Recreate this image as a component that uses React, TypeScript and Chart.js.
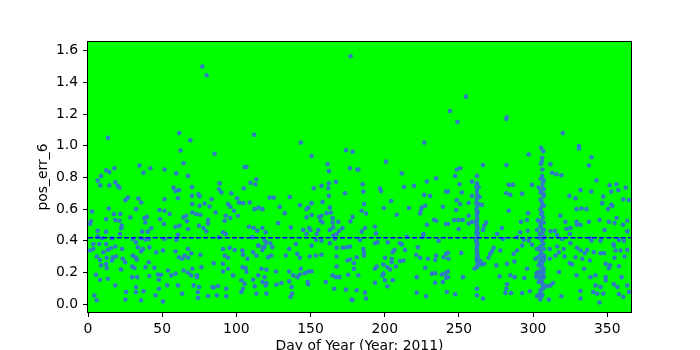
import React, { useEffect, useRef } from "react";
import { Chart, registerables } from "chart.js";

Chart.register(...registerables);

// ---- data: [day of year, pos_err_6] ----
const SEG_A: number[][] = [
  [12.2,0.845],[14.4,0.834],[17.8,0.858],[8.8,0.81],[6.5,0.78],[8.3,0.75],[14.4,0.75],[18.4,0.77],[20,0.747],[21.2,0.736],
  [34.7,0.876],[42.1,0.858],[37.4,0.83],[51.6,0.85],[59.5,0.826],[57.6,0.736],[59,0.715],[25.2,0.657],[26.8,0.673],[34,0.667],
  [35.8,0.642],[32.4,0.6],[51.6,0.663],[48.2,0.594],[51.6,0.59],[55,0.569],[2.7,0.585],[14,0.604],[17.4,0.569],[21.8,0.569],
  [18.4,0.531],[21.2,0.527],[12.2,0.537],[2,0.523],[1.4,0.506],[28.6,0.548],[38,0.544],[39.7,0.552],[38.7,0.516],[22.8,0.496],
  [22.3,0.48],[36.5,0.458],[40.3,0.458],[42.6,0.48],[48.6,0.537],[51.1,0.506],[59,0.489],[6.5,0.464],[12.2,0.458],[6.5,0.429],
  [9.5,0.416],[16.2,0.416],[21.6,0.443],[30.2,0.412],[32.4,0.391],[35.8,0.416],[38.7,0.408],[41,0.412],[51.6,0.412],[60.6,0.439],
  [59.5,0.406],[3.6,0.38],[7.6,0.38],[12.2,0.38],[1.4,0.339],[3.6,0.349],[10.3,0.328],[13.3,0.343],[15.5,0.353],[18.4,0.364],
  [23,0.349],[33.6,0.36],[37,0.349],[35.8,0.333],[41.4,0.36],[46,0.328],[50.5,0.339],[59,0.333],[5.9,0.301],[8.1,0.28],
  [12.6,0.293],[16.7,0.297],[18.9,0.301],[12.2,0.255],[12.6,0.228],[8.8,0.245],[16.2,0.276],[23.4,0.287],[25,0.265],[22.3,0.22],
  [30.2,0.307],[32,0.297],[32.9,0.28],[29.7,0.238],[31.3,0.228],[38.7,0.234],[41,0.265],[44.8,0.23],[47.1,0.188],[49.3,0.186],
  [53.9,0.213],[56.1,0.182],[59,0.193],[5.4,0.186],[8.1,0.155],[13.3,0.161],[18.4,0.119],[29.7,0.171],[33.1,0.171],[41.4,0.178],
  [47.8,0.155],[47.8,0.098],[53.4,0.119],[32.4,0.109],[32.4,0.077],[25.7,0.077],[37.4,0.082],[45.5,0.056],[50.5,0.017],[4.3,0.055],
  [5.9,0.025],[25.2,0.03],[35.8,0.025],[13.5,1.05],
];

const SEG_B: number[][] = [
  [61.5,1.08],[69,1.035],[62.4,0.97],[85.3,0.95],[64.4,0.89],[105.6,0.866],[106.8,0.866],[67.4,0.81],[113.5,0.789],[109.5,0.767],
  [112.8,0.757],[88.7,0.763],[61.3,0.72],[70.1,0.74],[88.3,0.726],[89.9,0.705],[74.5,0.694],[75.2,0.682],[96.6,0.7],[105,0.732],
  [60.6,0.669],[70.1,0.684],[100.5,0.669],[104.5,0.638],[109,0.642],[83.3,0.663],[70.3,0.632],[75.2,0.621],[78.6,0.636],[82,0.617],
  [94.4,0.632],[95.9,0.615],[101.8,0.642],[98.4,0.59],[101.1,0.558],[112.4,0.6],[115,0.61],[117.6,0.6],[64.4,0.548],[66.2,0.558],
  [70.3,0.579],[73,0.569],[75.7,0.565],[86,0.579],[92.8,0.558],[95.9,0.544],[92.1,0.527],[80.9,0.533],[80.9,0.51],[61.7,0.496],
  [66.7,0.523],[67.4,0.475],[74.8,0.496],[77.9,0.481],[79.7,0.46],[91,0.454],[92.8,0.443],[108.6,0.489],[111.7,0.481],[114,0.464],
  [117.6,0.481],[119.8,0.454],[88.3,0.422],[110.8,0.422],[119.1,0.4],[114.7,0.37],[118.4,0.36],[120.3,0.39],[67.4,0.349],[61.3,0.297],
  [63.5,0.287],[65.1,0.307],[67.4,0.293],[69.6,0.322],[75.7,0.312],[84.7,0.259],[91,0.349],[95.5,0.356],[98.9,0.343],[92.1,0.307],
  [94.4,0.293],[91,0.255],[94.4,0.224],[104.1,0.339],[104.5,0.312],[107.4,0.287],[104.1,0.234],[106.3,0.228],[111.3,0.328],[113.5,0.307],
  [115.3,0.37],[117.6,0.343],[119.1,0.364],[64.4,0.213],[67.4,0.199],[69.6,0.182],[70.3,0.224],[73.4,0.182],[73.4,0.171],[76.4,0.234],
  [60.6,0.119],[63.5,0.067],[71.2,0.119],[74.8,0.109],[74.1,0.077],[74.1,0.04],[80.9,0.052],[83.8,0.109],[87.6,0.115],[86.9,0.056],
  [84.7,0.105],[93.2,0.098],[93.2,0.05],[91,0.207],[97.8,0.182],[103.4,0.151],[105.6,0.13],[104.5,0.098],[103.4,0.077],[106.8,0.203],
  [111.3,0.155],[114.7,0.182],[117.6,0.14],[119.1,0.171],[112.4,0.113],[119.8,0.119],[116.9,0.224],[113.5,0.067],[77,1.5],[80,1.445],
  [112,1.07],
];

const SEG_C: number[][] = [
  [143.5,1.02],[150.7,0.935],[173.9,0.972],[178.4,0.962],[161.5,0.883],[162.4,0.84],[176.6,0.858],[181.5,0.85],[152.2,0.732],[157.4,0.747],
  [162.4,0.763],[162,0.732],[167.1,0.772],[173.2,0.7],[162.4,0.684],[122.5,0.673],[125.2,0.673],[136,0.677],[142.8,0.625],[150.7,0.638],
  [158.1,0.646],[129.3,0.615],[132.6,0.575],[148.4,0.61],[147.3,0.6],[150.7,0.563],[147.3,0.548],[155.9,0.552],[157.4,0.558],[160.8,0.575],
  [163,0.61],[163.7,0.579],[156.8,0.527],[158.1,0.516],[164.9,0.544],[164.9,0.516],[168.7,0.52],[178.4,0.552],[177,0.523],[128.2,0.512],
  [136.7,0.485],[145,0.469],[149.1,0.481],[150,0.469],[154.1,0.443],[155.2,0.469],[163,0.469],[165.3,0.485],[171.6,0.481],[169.4,0.464],
  [167.6,0.443],[165.3,0.433],[147.3,0.443],[153.6,0.406],[157.4,0.4],[163,0.385],[166.4,0.412],[150.7,0.37],[167.6,0.356],[171.6,0.356],
  [174.3,0.36],[176.6,0.364],[123,0.385],[124.3,0.36],[135.6,0.349],[140.1,0.38],[121.4,0.297],[123.6,0.307],[133.3,0.307],[141,0.318],
  [142.8,0.293],[149.5,0.301],[153.6,0.307],[157.4,0.312],[167.6,0.301],[174.8,0.276],[176.6,0.282],[179.3,0.259],[120.3,0.218],[126.6,0.207],
  [135.6,0.207],[143.5,0.224],[146.1,0.196],[148.4,0.207],[150.7,0.207],[142.8,0.188],[141.2,0.171],[138.3,0.182],[167.6,0.238],[164.9,0.182],
  [167.1,0.171],[169.4,0.171],[175.4,0.186],[179.3,0.224],[120.3,0.134],[127,0.124],[130.4,0.134],[135.6,0.144],[137.2,0.109],[137.6,0.067],
  [136.5,0.046],[148,0.14],[148.4,0.126],[160.3,0.14],[166,0.098],[173.9,0.092],[181.1,0.088],[178.2,0.025],[177.6,0.03],[120.3,0.067],
  [177,1.565],
];

const SEG_D: number[][] = [
  [226.6,1.02],[200.9,0.9],[182.2,0.85],[211.5,0.826],[234.7,0.795],[228.4,0.774],[241.4,0.711],[185.1,0.757],[185.6,0.711],[196.8,0.73],
  [197.5,0.715],[213,0.74],[219.8,0.747],[226.6,0.69],[230.6,0.684],[204.3,0.652],[186,0.632],[184.5,0.59],[187.4,0.573],[199.5,0.607],
  [216.4,0.607],[224.3,0.59],[225,0.61],[227.3,0.621],[223.9,0.573],[239.2,0.615],[208.1,0.565],[233.3,0.533],[234.7,0.527],[241.4,0.506],
  [228.4,0.502],[193.4,0.489],[186.7,0.481],[184.5,0.458],[194.1,0.447],[226.1,0.443],[225.7,0.426],[214.9,0.426],[183.3,0.406],[236.3,0.4],
  [193.4,0.385],[195,0.391],[202,0.391],[210.3,0.385],[211.5,0.376],[185.6,0.349],[186,0.328],[186,0.307],[206.6,0.343],[205.4,0.328],
  [213.7,0.343],[222.3,0.36],[181.1,0.297],[200.2,0.293],[204.7,0.287],[204.7,0.265],[210.3,0.272],[212.6,0.276],[221.2,0.312],[223.9,0.293],
  [229.1,0.287],[234,0.28],[234.7,0.307],[239.7,0.297],[241.4,0.318],[194.6,0.238],[199.1,0.251],[201.8,0.234],[203.6,0.22],[207.6,0.238],
  [193.4,0.224],[227.3,0.23],[182.2,0.182],[198.6,0.182],[199.1,0.193],[221.6,0.171],[231.8,0.193],[234,0.196],[238.5,0.188],[240.8,0.196],
  [241.4,0.167],[193.4,0.136],[200.2,0.151],[201.8,0.113],[205.4,0.151],[234,0.136],[239.2,0.14],[186.7,0.073],[187.4,0.036],[221.6,0.073],
  [227.9,0.05],[241.9,0.077],[244,1.22],[249,1.15],[254.7,1.31],
];

const SEG_E: number[][] = [
  [297.1,0.945],[250.9,0.858],[248.6,0.85],[266.2,0.878],[282,0.878],[247.5,0.81],[262.2,0.81],[250.5,0.757],[258.8,0.774],[262.2,0.763],
  [263.3,0.74],[283.6,0.753],[286.5,0.753],[299.3,0.753],[242.6,0.711],[252,0.705],[262.2,0.715],[258.8,0.684],[264,0.677],[282,0.7],
  [284.7,0.69],[292.6,0.698],[248.6,0.657],[250.9,0.632],[256.6,0.64],[261.7,0.64],[263.3,0.632],[265.5,0.627],[248.2,0.594],[283.6,0.59],
  [296.6,0.575],[262.2,0.579],[256.6,0.558],[262.2,0.558],[246.8,0.531],[249.8,0.531],[252.7,0.531],[256.6,0.51],[258.8,0.52],[262.2,0.527],
  [268.4,0.516],[267.1,0.496],[291.9,0.52],[295.9,0.531],[303.2,0.531],[242.6,0.506],[262.2,0.496],[262.2,0.469],[249.8,0.475],[266.2,0.469],
  [279,0.481],[275.7,0.443],[291.4,0.454],[296.4,0.464],[302.7,0.469],[262.2,0.422],[262.2,0.443],[279.7,0.412],[289.2,0.422],[293.7,0.406],
  [297.1,0.4],[299.3,0.376],[292.6,0.37],[262.2,0.391],[262.2,0.364],[273.4,0.356],[277.9,0.339],[272.3,0.334],[271.1,0.318],[270,0.293],
  [262.2,0.339],[262.2,0.307],[286.9,0.318],[289.2,0.339],[302.7,0.349],[242.6,0.324],[243,0.287],[251.6,0.324],[262.2,0.276],[263.3,0.255],
  [265.5,0.251],[264.4,0.272],[260.6,0.224],[267.1,0.255],[275.2,0.245],[282.4,0.255],[287.4,0.27],[301.6,0.287],[295.9,0.224],[242.6,0.207],
  [242.6,0.171],[252.7,0.171],[277.5,0.176],[284.7,0.182],[287.6,0.171],[294.1,0.165],[302.3,0.193],[302.3,0.171],[282.4,0.126],[282,0.098],
  [281.3,0.071],[285.1,0.071],[292.6,0.071],[297.8,0.082],[302.7,0.052],[247.5,0.063],[262.2,0.098],[262.2,0.056],[266.2,0.036],[282,1.17],
  [282.3,1.18],
  [261.9,0.74],[262.4,0.69],[262,0.665],[262.5,0.62],[261.8,0.6],[262.3,0.54],[262,0.51],[262.5,0.48],[261.9,0.455],[262.4,0.43],
  [262,0.41],[262.5,0.375],[261.9,0.35],[262.3,0.325],[262,0.29],[262.6,0.265],[262.1,0.24],[262.4,0.235],[262.8,0.3],[262.7,0.45],
  [262.7,0.58],[261.6,0.52],[261.5,0.4],
];

const SEG_F: number[][] = [
  [320,1.08],[330.9,0.998],[330.9,0.983],[339.4,0.928],[337.6,0.876],[305.4,0.987],[306.8,0.966],[306.1,0.924],[305.4,0.886],[311.7,0.883],
  [312.8,0.83],[315.7,0.82],[319.1,0.814],[342.8,0.782],[351.6,0.751],[356.1,0.757],[362.4,0.736],[306.1,0.81],[307.2,0.782],[303.8,0.736],
  [306.1,0.736],[307.2,0.726],[305,0.705],[307.2,0.694],[332,0.72],[339.2,0.711],[352.7,0.711],[357.4,0.72],[324.5,0.684],[328.6,0.669],
  [347.3,0.679],[346.6,0.638],[352.7,0.627],[360.8,0.663],[364.6,0.657],[306.1,0.642],[307.2,0.621],[305,0.6],[306.1,0.579],[329.3,0.6],
  [332.6,0.604],[336,0.6],[350.5,0.6],[353.4,0.621],[318.4,0.558],[356.3,0.544],[303.4,0.527],[305.4,0.527],[307.2,0.516],[321.8,0.52],
  [329.3,0.52],[329.7,0.502],[332,0.502],[337.6,0.52],[344.8,0.531],[351.1,0.52],[354.9,0.512],[360.6,0.502],[363.5,0.527],[305,0.489],
  [306.1,0.475],[311.7,0.46],[314.7,0.464],[322.5,0.475],[325.2,0.481],[316.2,0.437],[324.8,0.443],[348.2,0.469],[363.5,0.46],[304.5,0.443],
  [307.6,0.422],[306.1,0.4],[319.6,0.412],[325.2,0.385],[338.7,0.416],[339.4,0.4],[345.5,0.4],[354.1,0.38],[357.9,0.406],[361.3,0.4],
  [316.2,0.364],[305,0.364],[307.2,0.349],[311.3,0.349],[317.4,0.328],[320.7,0.349],[329.7,0.356],[332,0.339],[336.5,0.343],[334.9,0.322],
  [341,0.328],[345.5,0.322],[347.8,0.322],[354.5,0.37],[355.6,0.339],[359,0.339],[363.5,0.343],[361.7,0.301],[354.9,0.293],[303.4,0.297],
  [305,0.307],[306.1,0.287],[307.6,0.301],[311.3,0.287],[315.1,0.307],[321.2,0.301],[328.6,0.297],[333.1,0.287],[338.3,0.276],[324.8,0.259],
  [326.4,0.251],[348.9,0.255],[351.8,0.245],[351.1,0.228],[357.9,0.24],[303.8,0.245],[306.1,0.255],[307.2,0.224],[334.5,0.224],[317.4,0.203],
  [303.4,0.203],[305,0.182],[307.2,0.171],[329.3,0.182],[338.7,0.171],[342.1,0.182],[348.9,0.171],[348.9,0.151],[359.7,0.171],[303.8,0.14],
  [306.1,0.13],[309.5,0.113],[311.7,0.119],[313.5,0.134],[342.1,0.119],[345.5,0.109],[354.5,0.126],[356.8,0.109],[363.5,0.119],[306.1,0.098],
  [305,0.077],[332,0.083],[340.5,0.077],[343.2,0.067],[347.3,0.067],[357.9,0.063],[360.8,0.046],[364.6,0.077],[319.1,0.05],[332,0.036],
  [310.6,0.03],[344.8,0.011],[303.8,0.056],
  [304.8,0.03],[305.5,0.045],[306.3,0.06],[305,0.09],[306.8,0.1],[305.7,0.15],[304.9,0.16],[306.5,0.19],[305.3,0.21],[307,0.2],
  [306,0.23],[304.7,0.27],[305.8,0.26],[306.6,0.31],[305.2,0.33],[306.9,0.38],[305.6,0.41],[304.6,0.42],[306.4,0.45],[305.1,0.5],
  [306.7,0.55],[305.4,0.57],[306.2,0.62],[305,0.66],[307,0.68],[305.8,0.72],[306.5,0.76],[305.2,0.79],[306.3,0.85],[305.9,0.9],
  [307.3,0.12],[307.5,0.28],[304.3,0.35],[307.2,0.47],
];

const MEAN_VALUE = 0.42;
const X_TICKS = [0, 50, 100, 150, 200, 250, 300, 350];
const Y_TICKS = [0, 0.2, 0.4, 0.6, 0.8, 1.0, 1.2, 1.4, 1.6];
const X_LABEL = "Day of Year (Year: 2011)";
const Y_LABEL = "pos_err_6";

const FONT = { family: "'DejaVu Sans', sans-serif", size: 13.9 };

const framePlugin = {
  id: "frame",
  beforeDatasetsDraw(chart: any) {
    const { ctx, chartArea: a } = chart;
    ctx.save();
    ctx.fillStyle = "#00ff00";
    ctx.fillRect(a.left, a.top, a.right - a.left, a.bottom - a.top);
    ctx.restore();
  },
  afterDraw(chart: any) {
    const { ctx, chartArea: a } = chart;
    ctx.save();
    ctx.strokeStyle = "#000";
    ctx.lineWidth = 1;
    ctx.strokeRect(Math.round(a.left) - 0.5, Math.round(a.top) - 0.5, Math.round(a.right - a.left) + 1, Math.round(a.bottom - a.top) + 1);
    ctx.restore();
  },
};

export default function App() {
  const ref = useRef<HTMLCanvasElement>(null);
  useEffect(() => {
    const pts = [...SEG_A, ...SEG_B, ...SEG_C, ...SEG_D, ...SEG_E, ...SEG_F].map(([x, y]) => ({ x, y }));
    const chart = new Chart(ref.current as HTMLCanvasElement, {
      type: "scatter",
      data: {
        datasets: [
          {
            type: "line",
            data: [{ x: 0, y: MEAN_VALUE }, { x: 366, y: MEAN_VALUE }],
            borderColor: "#0000ff",
            borderWidth: 1.5,
            borderDash: [5, 2.2],
            pointRadius: 0,
            fill: false,
          } as any,
          {
            data: pts,
            pointRadius: 2.3,
            pointBorderWidth: 0,
            pointBackgroundColor: "#2f7bc4",
            borderColor: "#2f7bc4",
          },
        ],
      },
      options: {
        responsive: false,
        animation: false,
        events: [],
        layout: { padding: { left: 0, top: 42, right: 69, bottom: 0 } },
        plugins: { legend: { display: false }, tooltip: { enabled: false } },
        scales: {
          x: {
            type: "linear",
            min: 0,
            max: 366,
            afterFit: (s: any) => { s.height = 38; },
            afterBuildTicks: (s: any) => { s.ticks = X_TICKS.map((v) => ({ value: v })); },
            border: { display: false },
            grid: { drawOnChartArea: false, drawTicks: true, tickLength: 5, tickColor: "#000", color: "#000" },
            ticks: { color: "#000", font: FONT, padding: 4, maxRotation: 0, callback: (v: any) => String(v) },
            title: { display: true, text: X_LABEL, color: "#000", font: FONT, padding: { top: 0, bottom: -4.5 } },
          },
          y: {
            type: "linear",
            min: -0.049,
            max: 1.655,
            afterFit: (s: any) => { s.width = 88; },
            afterBuildTicks: (s: any) => { s.ticks = Y_TICKS.map((v) => ({ value: v })); },
            border: { display: false },
            grid: { drawOnChartArea: false, drawTicks: true, tickLength: 5, tickColor: "#000", color: "#000" },
            ticks: { color: "#000", font: FONT, padding: 5, callback: (v: any) => Number(v).toFixed(1) },
            title: { display: true, text: Y_LABEL, color: "#000", font: FONT, padding: { top: 35, bottom: 0 } },
          },
        },
      },
      plugins: [framePlugin],
    } as any);
    return () => chart.destroy();
  }, []);
  return (
    <div style={{ position: "fixed", left: 0, top: 0, width: 700, height: 350, background: "#fff" }}>
      <canvas ref={ref} width={700} height={350} style={{ display: "block", width: 700, height: 350 }} />
    </div>
  );
}
